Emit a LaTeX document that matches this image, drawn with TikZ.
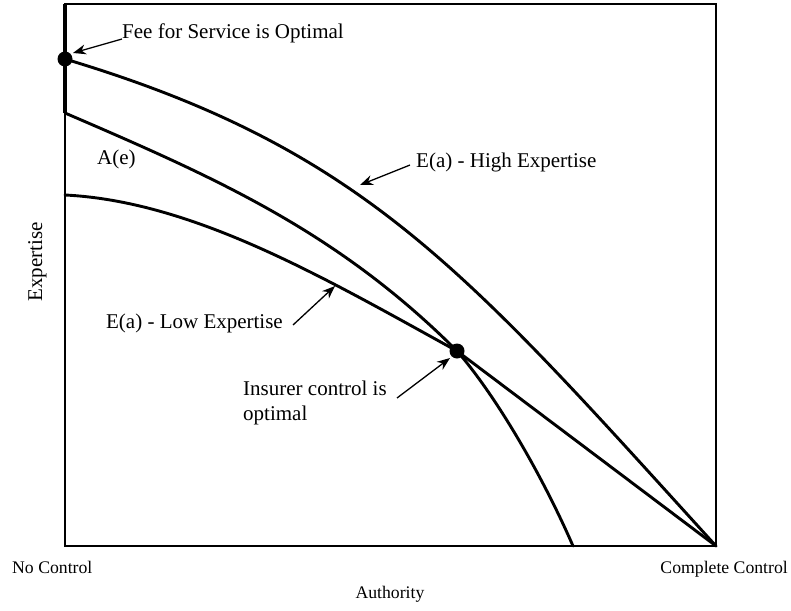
\documentclass[tikz,border=0pt]{standalone}
\usepackage{fontspec}
\setmainfont{Liberation Serif}
\usetikzlibrary{arrows.meta}
\begin{document}
\begin{tikzpicture}[x=1pt,y=-1pt,
  curve/.style={line width=2.9pt,line cap=round,line join=round},
  frame/.style={line width=1.6pt},
  pointer/.style={line width=1.3pt,-{Stealth[length=13pt,width=10pt]}},
  lbl/.style={inner sep=0pt,font=\fontsize{21}{25}\selectfont},
  axlbl/.style={inner sep=0pt,font=\fontsize{17.7}{21}\selectfont},
  dot/.style={circle,fill=black,inner sep=0pt,minimum size=15pt}]
\useasboundingbox (0,0) rectangle (791,610);
% frame
\draw[frame] (65,4) -- (716,4) -- (716,546) -- (65,546) -- cycle;
\draw[line width=3.4pt] (65,4) -- (65,113);
% key points
\coordinate (hstart) at (65,59);
\coordinate (astart) at (65,113);
\coordinate (lstart) at (65,195);
\coordinate (cross) at (457,351);
\coordinate (cc0) at (716,546);
\coordinate (aend) at (573,546);
% curves
\draw[curve] (hstart) .. controls (365,149) and (466,271) .. (cc0);
\draw[curve] (astart) .. controls (215,177.5) and (337,231) .. (cross)
   .. controls (497,397) and (543,477) .. (aend);
\draw[curve] (lstart) .. controls (195,201.5) and (327,279.5) .. (cross) -- (cc0);
% dots
\node[dot] (fdot) at (hstart) {};
\node[dot] (idot) at (cross) {};
% labels
\node[lbl,anchor=base west] (fee) at (122,39) {Fee for Service is Optimal};
\node[lbl,anchor=base west] (ae) at (97,164) {A(e)};
\node[lbl,anchor=base west] (high) at (416,167) {E(a) - High Expertise};
\node[lbl,anchor=base east] (low) at (283,328) {E(a) - Low Expertise};
\node[lbl,anchor=north west,align=left] (ins) at (243,381) {Insurer control is\\optimal};
\node[axlbl,anchor=base west] (noc) at (12,573) {No Control};
\node[axlbl,anchor=base east] (cc) at (788,573) {Complete Control};
\node[axlbl,anchor=base] (auth) at (390,598) {Authority};
\node[lbl,anchor=base,rotate=90] (exp) at (42,262) {Expertise};
% arrows
\coordinate (feetail) at (122,39);
\coordinate (feetip) at (73,53);
\coordinate (hightail) at (410,165);
\coordinate (hightip) at (360,185);
\coordinate (lowtail) at (293,325);
\coordinate (lowtip) at (335,286);
\coordinate (instail) at (397,398);
\coordinate (institp) at (450,358);
\draw[pointer] (feetail) -- (feetip);
\draw[pointer] (hightail) -- (hightip);
\draw[pointer] (lowtail) -- (lowtip);
\draw[pointer] (instail) -- (institp);
\end{tikzpicture}
\end{document}
